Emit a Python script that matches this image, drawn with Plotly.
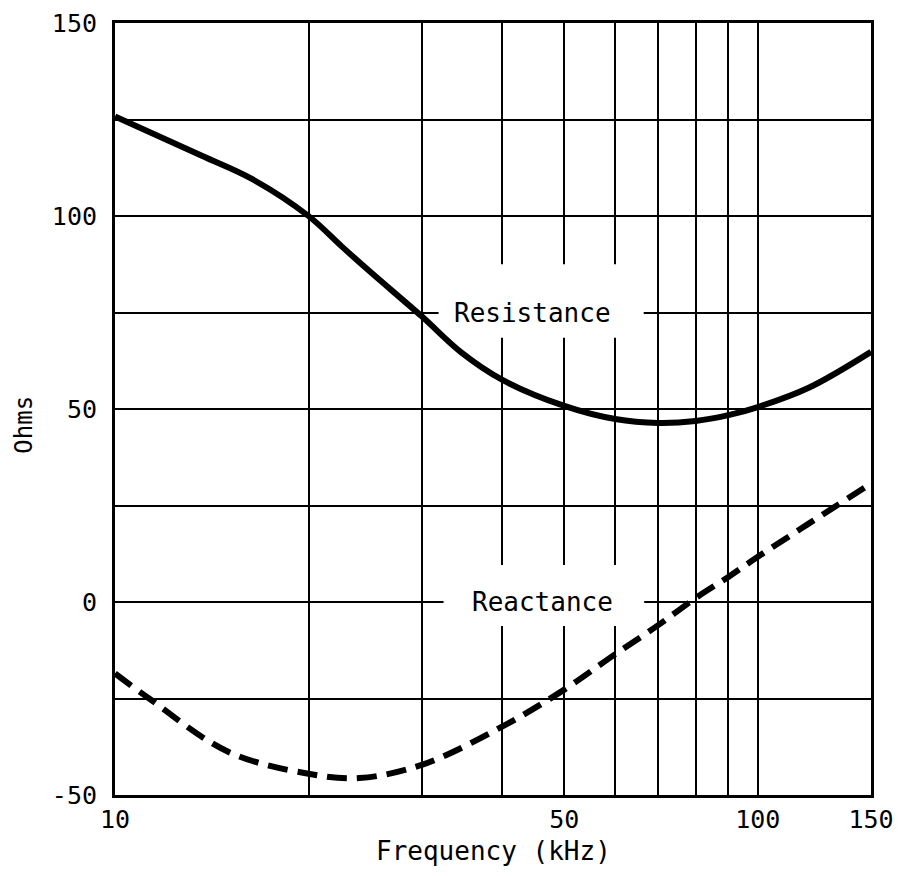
import math
import plotly.graph_objects as go

# ---- data ----
res_freq = [10, 13.65, 16.33, 20, 22.5, 25, 30, 34.6, 40, 50, 60, 70, 80, 90, 100, 120, 150]
res_ohms = [125.8, 115.6, 109.6, 100, 92.2, 85.4, 74.0, 64.6, 57.6, 50.8, 47.4, 46.4, 46.9, 48.4, 50.5, 55.5, 64.8]

reac_freq = [10, 11.3, 15, 20, 24, 30, 40, 50, 60, 70, 80, 90, 100, 120, 150]
reac_ohms = [-18.5, -25, -38.8, -44.5, -45.6, -42.2, -32.3, -22.7, -13.5, -6.0, 1.0, 6.5, 11.7, 20.3, 30.7]

x_grid = [10, 20, 30, 40, 50, 60, 70, 80, 90, 100, 150]
x_labels = ["10", "", "", "", "50", "", "", "", "", "100", "150"]
y_grid = [-50, -25, 0, 25, 50, 75, 100, 125, 150]
y_labels = ["-50", "", "0", "", "50", "", "100", "", "150"]

label_res = ("Resistance", 44.6, 75)
label_reac = ("Reactance", 46.2, 0)

FONT = "DejaVu Sans Mono"

fig = go.Figure()
fig.add_trace(go.Scatter(x=res_freq, y=res_ohms, mode="lines",
                         line=dict(color="black", width=6, shape="spline", smoothing=1.0),
                         showlegend=False, hoverinfo="skip"))
fig.add_trace(go.Scatter(x=reac_freq, y=reac_ohms, mode="lines",
                         line=dict(color="black", width=6, shape="spline", smoothing=1.0,
                                   dash="20px,10px"),
                         showlegend=False, hoverinfo="skip"))

# white patches interrupting the grid around the curve labels
for (x0, x1, y0, y1) in [(0.428, 0.699, 0.618, 0.632),
                         (0.445, 0.699, 0.5924, 0.6875),
                         (0.4346, 0.700, 0.219, 0.298)]:
    fig.add_shape(type="rect", xref="x domain", yref="y domain",
                  x0=x0, x1=x1, y0=y0, y1=y1,
                  fillcolor="white", line=dict(width=0), layer="above")

for text, fx, fy in [label_res, label_reac]:
    fig.add_annotation(text=text, x=math.log10(fx), y=fy, xref="x", yref="y",
                       showarrow=False, font=dict(family=FONT, size=26, color="black"),
                       xanchor="center", yanchor="middle")

fig.add_annotation(text="Frequency (kHz)", x=0.5, y=-0.0725, xref="paper", yref="paper",
                   showarrow=False, font=dict(family=FONT, size=26, color="black"),
                   xanchor="center", yanchor="middle")
fig.add_annotation(text="Ohms", x=-0.12, y=0.48, xref="paper", yref="paper",
                   showarrow=False, textangle=-90,
                   font=dict(family=FONT, size=24, color="black"),
                   xanchor="center", yanchor="middle")

fig.update_xaxes(type="log", range=[1, math.log10(150)],
                 tickmode="array", tickvals=x_grid, ticktext=x_labels,
                 showgrid=True, gridcolor="black", gridwidth=2,
                 showline=True, linecolor="black", linewidth=3, mirror=True,
                 ticks="", tickfont=dict(family=FONT, size=25, color="black"),
                 zeroline=False, fixedrange=True, automargin=False)
fig.update_yaxes(range=[-50, 150],
                 tickmode="array", tickvals=y_grid, ticktext=y_labels,
                 showgrid=True, gridcolor="black", gridwidth=2,
                 showline=True, linecolor="black", linewidth=3, mirror=True,
                 ticks="", ticklabelstandoff=10,
                 tickfont=dict(family=FONT, size=25, color="black"),
                 zeroline=False, fixedrange=True, automargin=False)

# the page body adds an 8px margin, so the figure is offset by (8, 8);
# keep the figure inside the window so nothing overflows
fig.update_layout(width=887, height=860,
                  margin=dict(l=107, r=24, t=15, b=73, autoexpand=False),
                  paper_bgcolor="white", plot_bgcolor="white",
                  showlegend=False)

fig.write_html("out.html")
